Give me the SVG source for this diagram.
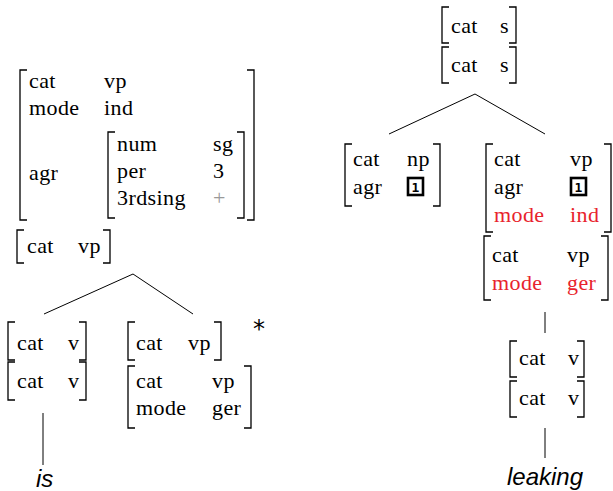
<svg xmlns="http://www.w3.org/2000/svg" width="613" height="491" viewBox="0 0 613 491">
<style>
.t{font-family:"Liberation Serif","DejaVu Serif",serif;font-size:22px;letter-spacing:0.4px;fill:#000}
.r{fill:#e8232d}
.g{fill:#999}
.b{fill:none;stroke:#000;stroke-width:1.3}
.c{fill:none;stroke:#000;stroke-width:1}
.w{font-family:"Liberation Sans","DejaVu Sans",sans-serif;font-style:italic;font-size:24px;fill:#000}
.box{fill:none;stroke:#000;stroke-width:2.6}
.n{font-family:"DejaVu Sans Mono","Liberation Mono",monospace;font-size:13px;font-weight:bold;fill:#000}
</style>
<rect width="613" height="491" fill="#fff"/>
<g id="connectors">
<path class="c" d="M44,314 L133,274 L193,314"/>
<path class="c" d="M43,413 V465"/>
<path class="c" d="M389,134 L475,94 L545,134"/>
<path class="c" d="M545,312 V333"/>
<path class="c" d="M545,428 V458"/>
</g>
<g id="vp-top">
<path class="b" d="M27,70 H20 V220 H27"/>
<path class="b" d="M247,70 H254 V220 H247"/>
<text class="t" x="29" y="88">cat</text><text class="t" x="104" y="88">vp</text>
<text class="t" x="29" y="115">mode</text><text class="t" x="104" y="115">ind</text>
<text class="t" x="29" y="180">agr</text>
<path class="b" d="M115,132 H108 V218 H115"/>
<path class="b" d="M237,132 H244 V218 H237"/>
<text class="t" x="117" y="151">num</text><text class="t" x="213" y="151">sg</text>
<text class="t" x="117" y="178">per</text><text class="t" x="213" y="178">3</text>
<text class="t" x="117" y="205">3rdsing</text><text class="t g" x="213" y="205">+</text>
</g>
<g id="vp-left">
<path class="b" d="M24,230 H17 V263 H24"/>
<path class="b" d="M103,230 H110 V263 H103"/>
<text class="t" x="27" y="253">cat</text><text class="t" x="78" y="253">vp</text>
</g>
<g id="v-left">
<path class="b" d="M15,322 H8 V360 H15"/>
<path class="b" d="M79,322 H86 V360 H79"/>
<text class="t" x="17" y="350">cat</text><text class="t" x="68" y="350">v</text>
<path class="b" d="M15,362 H8 V400 H15"/>
<path class="b" d="M79,362 H86 V400 H79"/>
<text class="t" x="17" y="388">cat</text><text class="t" x="68" y="388">v</text>
</g>
<g id="is">
<text class="w" x="36" y="487">is</text>
</g>
<g id="vp-right">
<path class="b" d="M135,322 H128 V360 H135"/>
<path class="b" d="M214,322 H221 V360 H214"/>
<text class="t" x="136" y="350">cat</text><text class="t" x="188" y="350">vp</text>
<text x="253" y="337" style="font-family:'DejaVu Sans',sans-serif;font-size:24px">*</text>
<path class="b" d="M135,366 H128 V428 H135"/>
<path class="b" d="M244,366 H251 V428 H244"/>
<text class="t" x="136" y="388">cat</text><text class="t" x="212" y="388">vp</text>
<text class="t" x="136" y="415">mode</text><text class="t" x="212" y="415">ger</text>
</g>
<g id="s">
<path class="b" d="M449,7 H442 V43 H449"/>
<path class="b" d="M509,7 H516 V43 H509"/>
<text class="t" x="451" y="33">cat</text><text class="t" x="500" y="33">s</text>
<path class="b" d="M449,47 H442 V83 H449"/>
<path class="b" d="M509,47 H516 V83 H509"/>
<text class="t" x="451" y="72">cat</text><text class="t" x="500" y="72">s</text>
</g>
<g id="np">
<path class="b" d="M352,144 H345 V206 H352"/>
<path class="b" d="M433,144 H440 V206 H433"/>
<text class="t" x="353" y="166">cat</text><text class="t" x="407" y="166">np</text>
<text class="t" x="353" y="194">agr</text>
<rect class="box" x="408" y="178" width="15" height="17"/>
<text class="n" x="415.5" y="192" text-anchor="middle">1</text>
</g>
<g id="vp-r1">
<path class="b" d="M493,144 H486 V232 H493"/>
<path class="b" d="M604,144 H611 V232 H604"/>
<text class="t" x="494" y="166">cat</text><text class="t" x="570" y="166">vp</text>
<text class="t" x="494" y="194">agr</text>
<rect class="box" x="571" y="178" width="15" height="17"/>
<text class="n" x="578.5" y="192" text-anchor="middle">1</text>
<text class="t r" x="494" y="222">mode</text><text class="t r" x="570" y="222">ind</text>
</g>
<g id="vp-r2">
<path class="b" d="M491,236 H484 V300 H491"/>
<path class="b" d="M601,236 H608 V300 H601"/>
<text class="t" x="492" y="262">cat</text><text class="t" x="567" y="262">vp</text>
<text class="t r" x="492" y="290">mode</text><text class="t r" x="567" y="290">ger</text>
</g>
<g id="v-right">
<path class="b" d="M517,341 H510 V377 H517"/>
<path class="b" d="M577,341 H584 V377 H577"/>
<text class="t" x="519" y="365">cat</text><text class="t" x="568" y="365">v</text>
<path class="b" d="M517,381 H510 V417 H517"/>
<path class="b" d="M577,381 H584 V417 H577"/>
<text class="t" x="519" y="405">cat</text><text class="t" x="568" y="405">v</text>
</g>
<g id="leaking">
<text class="w" x="507" y="485">leaking</text>
</g>
</svg>
